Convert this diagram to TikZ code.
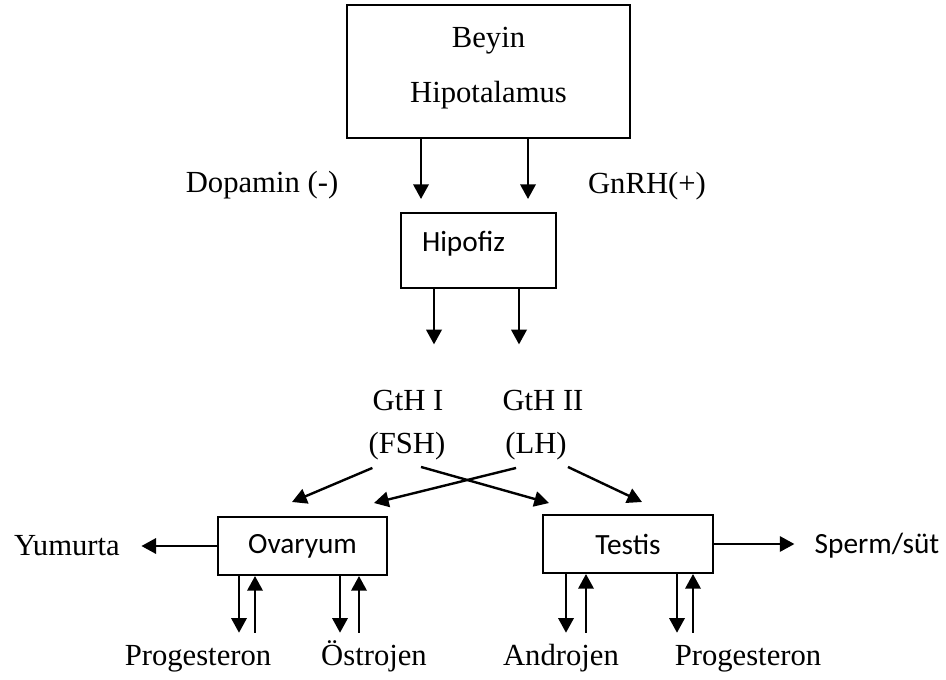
\documentclass[tikz,border=0pt]{standalone}
\usepackage{fontspec}
\setmainfont{Liberation Serif}
\newfontfamily\calibrifont{Carlito}
\usepackage{tikz}
\usetikzlibrary{
    arrows.meta,
    calc,
}
\tikzset{>={Triangle[length=11pt,width=11.5pt]}}

\begin{document}
\begin{tikzpicture}[x=0.75pt,y=-0.75pt,
        box/.style={draw,line width=1.5pt,inner sep=0pt},
        lbl/.style={inner sep=0pt,font=\fontsize{23}{27}\selectfont,text height=16pt,text depth=5pt},
        clbl/.style={inner sep=0pt,font=\calibrifont\fontsize{22}{26}\selectfont},
        arr/.style={->,line width=1.8pt}]
            \useasboundingbox (0,0) rectangle (946,679);
            % boxes
            \node[box,align=center,minimum width=212.25pt,minimum height=99.75pt,font=\fontsize{23}{41.25}\selectfont] (beyin) at (488.5,71.5) {Beyin\\Hipotalamus\rule[-10pt]{0pt}{10pt}};
            \node[box,text width=84.75pt,align=left,inner xsep=15.75pt,minimum height=56.25pt,font=\calibrifont\fontsize{22}{26}\selectfont,text height=16pt,text depth=14pt] (hipofiz) at (478.5,250.5) {Hipofiz};
            \node[box,minimum width=126.75pt,minimum height=43.5pt,font=\calibrifont\fontsize{22}{26}\selectfont] (ovaryum) at (302.5,546) {Ovaryum};
            \node[box,minimum width=127.5pt,minimum height=43.5pt,font=\calibrifont\fontsize{22}{26}\selectfont] (testis) at (628,544) {Testis};
            % labels
            \node[lbl,anchor=base] (dopamin) at (262,192) {Dopamin (-)};
            \node[lbl,anchor=base] (gnrh) at (647,193) {GnRH(+)};
            \node[lbl,anchor=base] (gthI) at (408,410) {GtH I};
            \node[lbl,anchor=base] (gthII) at (543,410) {GtH II};
            \node[lbl,anchor=base] (fsh) at (407,453) {(FSH)};
            \node[lbl,anchor=base] (lh) at (536,453) {(LH)};
            \node[lbl,anchor=base] (yumurta) at (67,555) {Yumurta};
            \node[clbl,anchor=base] (sperm) at (877,553) {Sperm/süt};
            \node[lbl,anchor=base] (progO) at (198,665) {Progesteron};
            \node[lbl,anchor=base] (ostrojen) at (374,665) {Östrojen};
            \node[lbl,anchor=base] (androjen) at (561,665) {Androjen};
            \node[lbl,anchor=base] (progT) at (748,665) {Progesteron};
            % where the vertical arrows run
            \coordinate (dopx) at (421,0);
            \coordinate (gnrhx) at (528,0);
            \coordinate (fshx) at (434,0);
            \coordinate (lhx) at (519,0);
            \coordinate (o1) at (239,0);
            \coordinate (o2) at (255,0);
            \coordinate (o3) at (340,0);
            \coordinate (o4) at (359,0);
            \coordinate (t1) at (566,0);
            \coordinate (t2) at (586,0);
            \coordinate (t3) at (677,0);
            \coordinate (t4) at (693,0);
            % arrows
            \draw[arr,shorten >=9.75pt] (beyin.south -| dopx) -- (hipofiz.north -| dopx);
            \draw[arr,shorten >=9.75pt] (beyin.south -| gnrhx) -- (hipofiz.north -| gnrhx);
            \draw[arr,shorten >=33pt] (hipofiz.south -| fshx) -- (gthI.north -| fshx);
            \draw[arr,shorten >=33pt] (hipofiz.south -| lhx) -- (gthII.north -| lhx);
            \draw[arr] ($(fsh.south west)+(4,8)$) -- ($(ovaryum.north)+(-10.5,-14)$);
            \draw[arr] ($(lh.south west)+(11,8)$) -- ($(ovaryum.north east)+(-14,-13)$);
            \draw[arr] ($(fsh.south)+(14,7)$) -- ($(testis.north west)+(7,-11)$);
            \draw[arr] ($(lh.south east)+(1,7)$) -- ($(testis.north)+(14,-12)$);
            \draw[arr,shorten >=16pt] (ovaryum.west) -- (ovaryum.west -| yumurta.east);
            \draw[arr,shorten >=15pt] (testis.east) -- (testis.east -| sperm.west);
            \draw[arr,shorten >=8pt] (ovaryum.south -| o1) -- (progO.north -| o1);
            \draw[arr,shorten <=8pt] (progO.north -| o2) -- (ovaryum.south -| o2);
            \draw[arr,shorten >=8pt] (ovaryum.south -| o3) -- (ostrojen.north -| o3);
            \draw[arr,shorten <=8pt] (ostrojen.north -| o4) -- (ovaryum.south -| o4);
            \draw[arr,shorten >=8pt] (testis.south -| t1) -- (androjen.north -| t1);
            \draw[arr,shorten <=8pt] (androjen.north -| t2) -- (testis.south -| t2);
            \draw[arr,shorten >=8pt] (testis.south -| t3) -- (progT.north -| t3);
            \draw[arr,shorten <=8pt] (progT.north -| t4) -- (testis.south -| t4);
        \end{tikzpicture}
\end{document}
